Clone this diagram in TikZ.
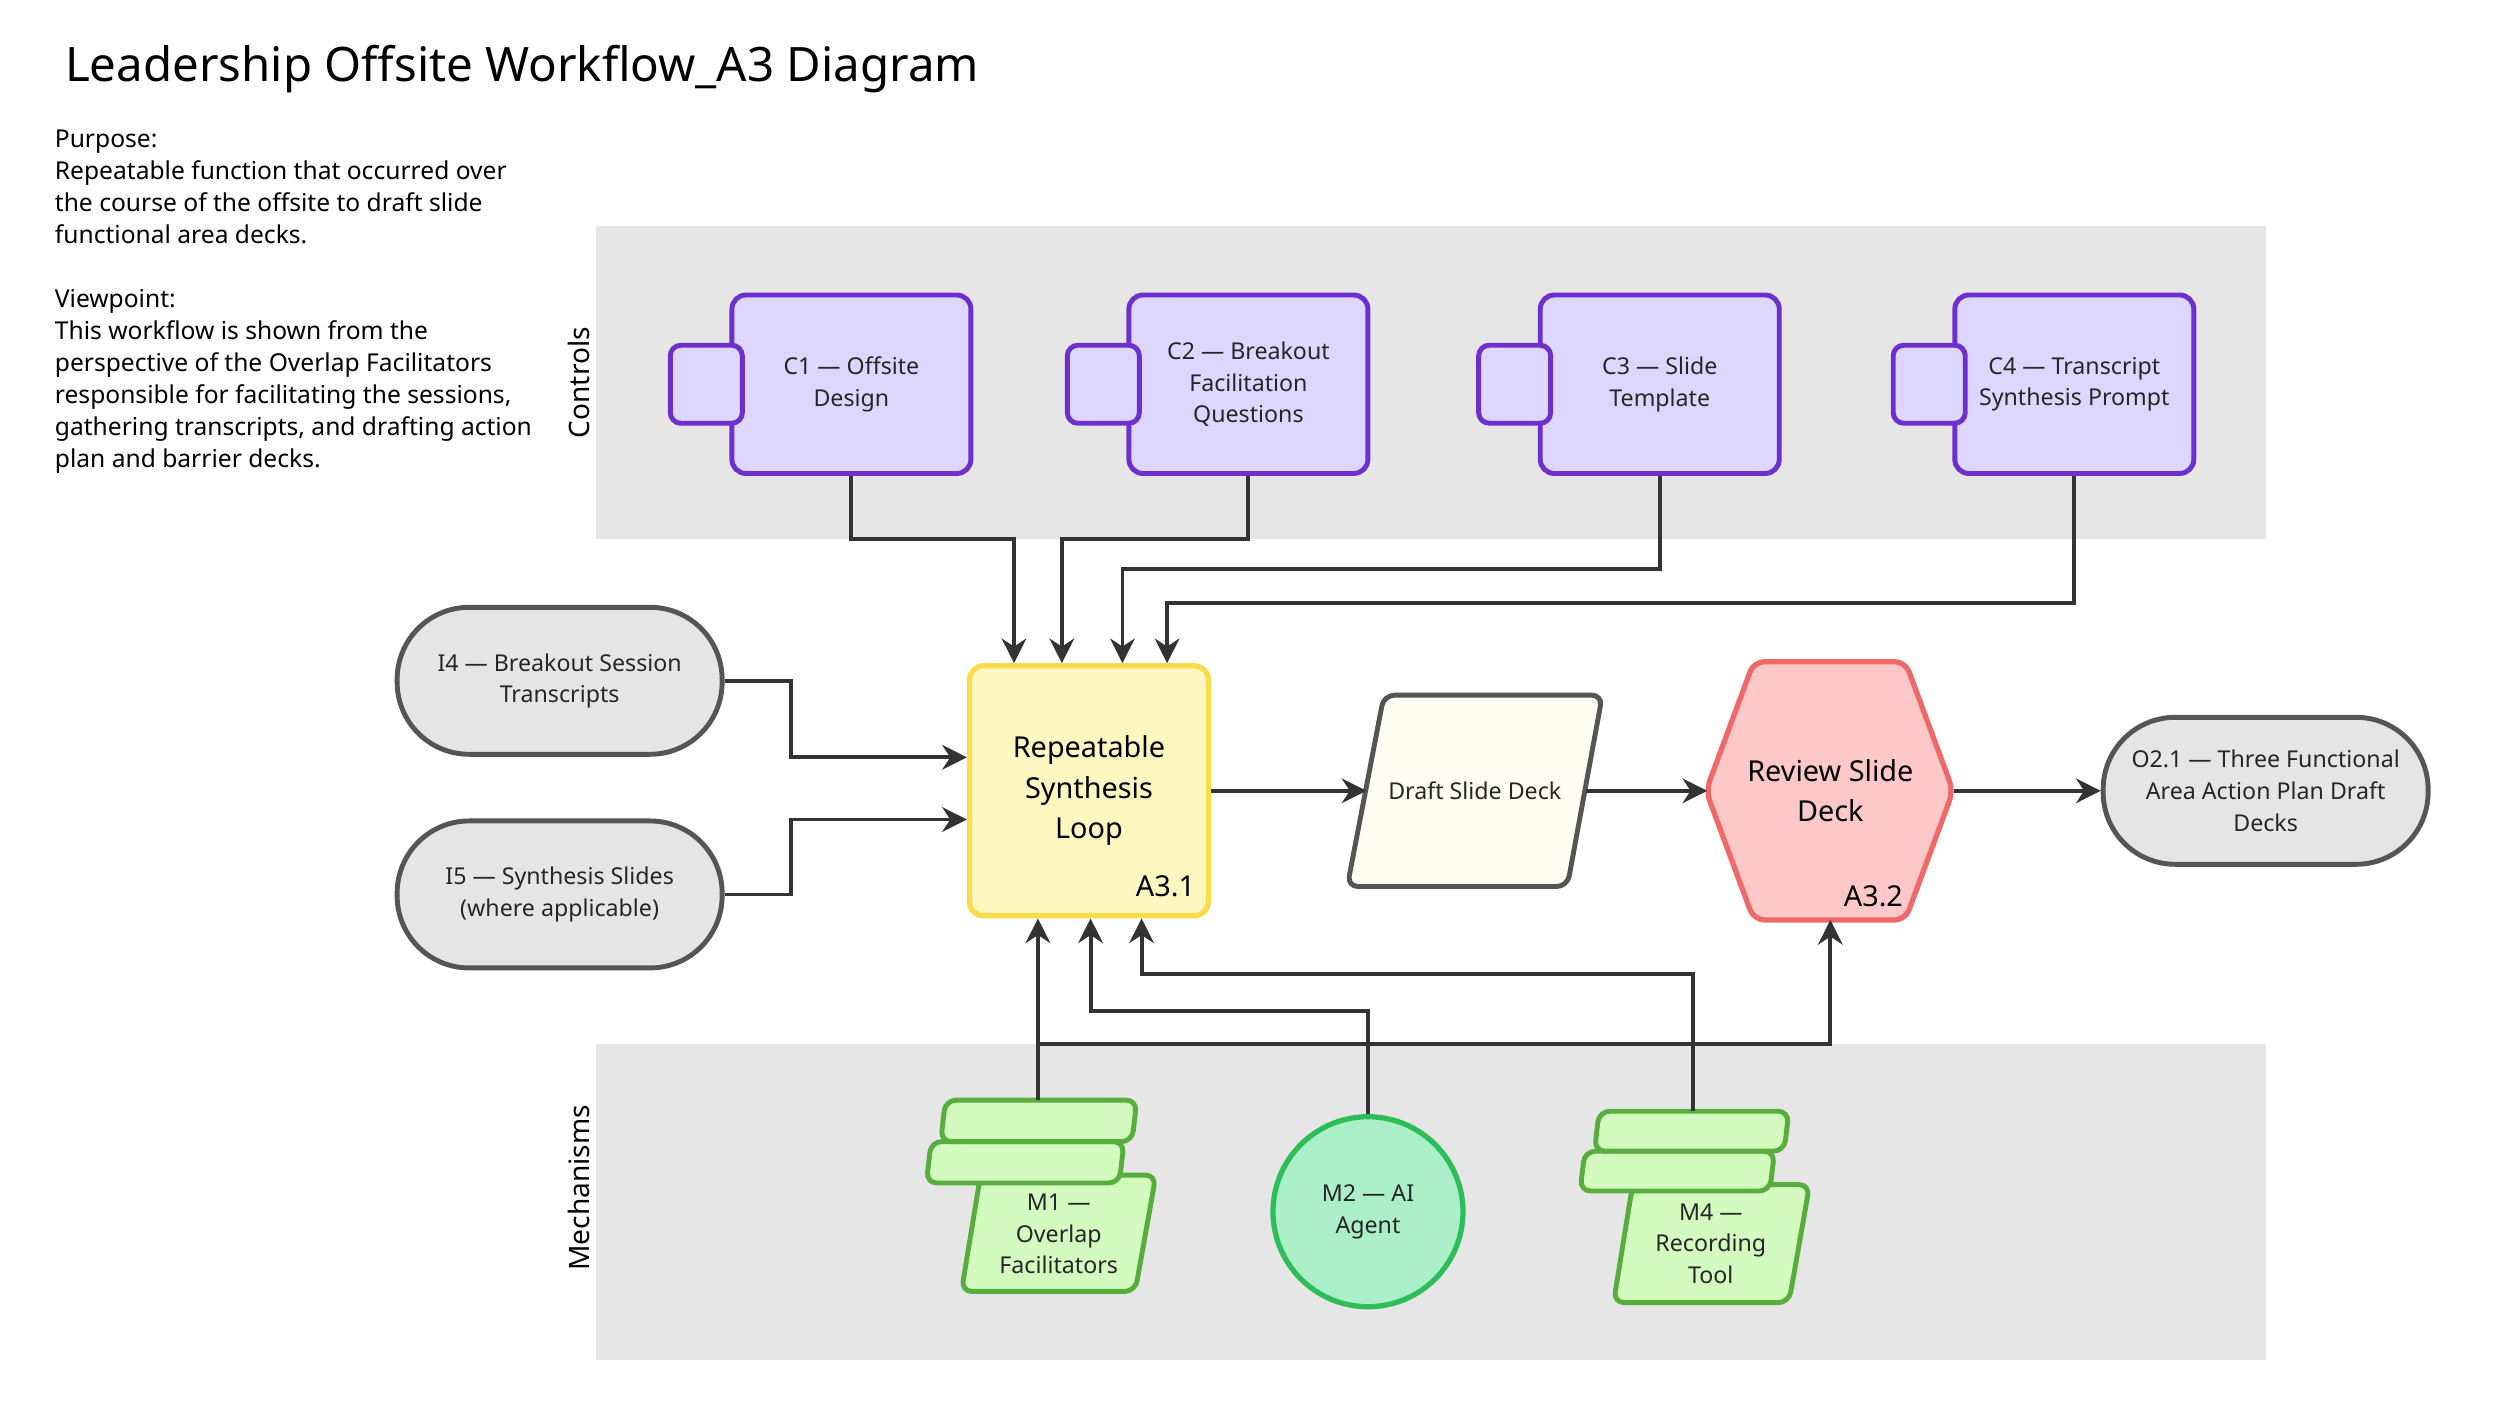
\documentclass[tikz,border=0pt]{standalone}
\usepackage{fontspec}
\setmainfont{Noto Sans}
\usetikzlibrary{arrows.meta,positioning}
\definecolor{bandgray}{HTML}{E6E6E6}
\definecolor{ctrlfill}{HTML}{DDD6FE}
\definecolor{ctrldraw}{HTML}{6D2FD0}
\definecolor{actfill}{HTML}{FEF7C0}
\definecolor{actdraw}{HTML}{FADB4A}
\definecolor{iofill}{HTML}{E5E5E5}
\definecolor{iodraw}{HTML}{555555}
\definecolor{draftfill}{HTML}{FEFEF0}
\definecolor{revfill}{HTML}{FEC8C8}
\definecolor{revdraw}{HTML}{F06868}
\definecolor{mechfill}{HTML}{D3FBC0}
\definecolor{mechdraw}{HTML}{58AE3C}
\definecolor{agentfill}{HTML}{ABEFC9}
\definecolor{agentdraw}{HTML}{2DBE5A}
\definecolor{linedark}{HTML}{333333}
\tikzset{
  lbl/.style={font=\bfseries\fontsize{6.6}{9}\selectfont, align=center, text=black!85},
  ctrlbox/.style={draw=ctrldraw, fill=ctrlfill, line width=1.4pt, rounded corners=4pt,
    minimum width=2.39cm, minimum height=1.785cm, lbl},
  ctrltab/.style={draw=ctrldraw, fill=ctrlfill, line width=1.4pt, rounded corners=3pt,
    minimum width=0.72cm, minimum height=0.78cm},
  iobox/.style={draw=iodraw, fill=iofill, line width=1.4pt, rounded corners=0.72cm,
    minimum width=3.25cm, minimum height=1.47cm, lbl},
  shp/.style={line width=1.4pt, rounded corners=3pt},
  flow/.style={draw=linedark, line width=1.1pt, -{Stealth[length=7pt,width=7pt]}},
  band/.style={fill=bandgray, draw=none},
}
\begin{document}
\begin{tikzpicture}[x=0.01594cm,y=-0.01594cm]
\useasboundingbox (0,0) rectangle (1568,894);
\fill[white] (0,0) rectangle (1568,894);

% title and notes
\node[anchor=west, font=\bfseries\fontsize{13.5}{16}\selectfont] (title) at (33,43) {Leadership Offsite Workflow\_A3 Diagram};
\node[anchor=north west, align=left, font=\fontsize{7}{9.1}\selectfont, inner sep=0pt] (notes) at (34,81)
  {\textbf{Purpose:}\\Repeatable function that occurred over\\the course of the offsite to draft slide\\functional area decks.\\[9.1pt]
   \textbf{Viewpoint:}\\This workflow is shown from the\\perspective of the Overlap Facilitators\\responsible for facilitating the sessions,\\gathering transcripts, and drafting action\\plan and barrier decks.};

% bands
\fill[band] (374,142) rectangle (1421,338);
\fill[band] (374,655) rectangle (1421,853);
\node[rotate=90, font=\bfseries\fontsize{8}{10}\selectfont] (ctrllbl) at (363,240) {Controls};
\node[rotate=90, font=\bfseries\fontsize{8}{10}\selectfont] (mechlbl) at (363,745) {Mechanisms};

% controls
\foreach \n/\x/\t in {c1/534/{C1 — Offsite\\Design}, c2/783/{C2 — Breakout\\Facilitation\\Questions},
  c3/1041/{C3 — Slide\\Template}, c4/1301/{C4 — Transcript\\Synthesis Prompt}}{
  \node[ctrlbox] (\n) at (\x,241) {\t};
  \node[ctrltab] (\n tab) at (\x-91,241) {};
}

% activity A3.1
\node[draw=actdraw, fill=actfill, line width=1.5pt, rounded corners=4pt, minimum width=2.39cm,
  minimum height=2.5cm, font=\bfseries\fontsize{8.2}{11.5}\selectfont, align=center] (a31) at (683,496)
  {Repeatable\\Synthesis\\Loop};
\node[font=\bfseries\fontsize{8.2}{10}\selectfont] (a31id) at (731,556) {A3.1};

% inputs
\node[iobox] (i4) at (351,427) {I4 — Breakout Session\\Transcripts};
\node[iobox] (i5) at (351,561) {I5 — Synthesis Slides\\(where applicable)};

% draft slide deck
\draw[shp, draw=iodraw, fill=draftfill] (868,436) -- (1005,436) -- (983,556) -- (845,556) -- cycle;
\node[lbl, minimum width=2.2cm] (draft) at (925,496) {Draft Slide Deck};

% review A3.2
\draw[shp, draw=revdraw, fill=revfill, line width=1.5pt] (1100,415) -- (1195,415) -- (1225,496)
  -- (1195,577) -- (1100,577) -- (1070,496) -- cycle;
\node[font=\bfseries\fontsize{8.2}{11.5}\selectfont, align=center, minimum width=2.45cm] (a32) at (1148,496) {Review Slide\\Deck};
\node[font=\bfseries\fontsize{8.2}{10}\selectfont] (a32id) at (1175,562) {A3.2};

% output
\node[iobox] (o21) at (1421,496) {O2.1 — Three Functional\\Area Action Plan Draft\\Decks};

% mechanisms
\draw[shp, draw=mechdraw, fill=mechfill] (615,737) -- (725,737) -- (712,810) -- (603,810) -- cycle;
\draw[shp, draw=mechdraw, fill=mechfill] (584,716) -- (705,716) -- (702,742) -- (581,742) -- cycle;
\draw[shp, draw=mechdraw, fill=mechfill] (593,690) -- (713,690) -- (710,716) -- (590,716) -- cycle;
\node[lbl] (m1) at (664,774) {M1 —\\Overlap\\Facilitators};
\coordinate (m1top) at (651,690);

\node[circle, draw=agentdraw, fill=agentfill, line width=1.5pt, minimum size=1.9cm, lbl] (m2) at (858,760) {M2 — AI\\Agent};

\draw[shp, draw=mechdraw, fill=mechfill] (1024,743) -- (1135,743) -- (1122,817) -- (1012,817) -- cycle;
\draw[shp, draw=mechdraw, fill=mechfill] (994,722) -- (1113,722) -- (1110,747) -- (991,747) -- cycle;
\draw[shp, draw=mechdraw, fill=mechfill] (1003,697) -- (1122,697) -- (1119,722) -- (1000,722) -- cycle;
\node[lbl] (m4) at (1073,780) {M4 —\\Recording\\Tool};
\coordinate (m4top) at (1062,697);

% control arrows
\draw[flow] (c1.south) |- (636,338) -- (a31.north -| 636,0);
\draw[flow] (c2.south) |- (666,338) -- (a31.north -| 666,0);
\draw[flow] (c3.south) |- (704,357) -- (a31.north -| 704,0);
\draw[flow] (c4.south) |- (732,378) -- (a31.north -| 732,0);

% input arrows
\draw[flow] (i4.east) -| (496,475) -- (a31.west |- 0,475);
\draw[flow] (i5.east) -| (496,514) -- (a31.west |- 0,514);

% outputs
\draw[flow] (a31.east) -- (draft.west -| 857,0);
\draw[flow] (draft.east |- 0,496) -- (a32.west);
\draw[flow] (a32.east) -- (o21.west);

% mechanism arrows
\draw[flow] (m1top) -- (a31.south -| m1top);
\draw[flow] (m1top) |- (1148,655) -- (a32.south |- 0,577);
\draw[flow] (m2.north) |- (684,634) -- (a31.south -| 684,0);
\draw[flow] (m4top) |- (716,611) -- (a31.south -| 716,0);
\end{tikzpicture}
\end{document}
